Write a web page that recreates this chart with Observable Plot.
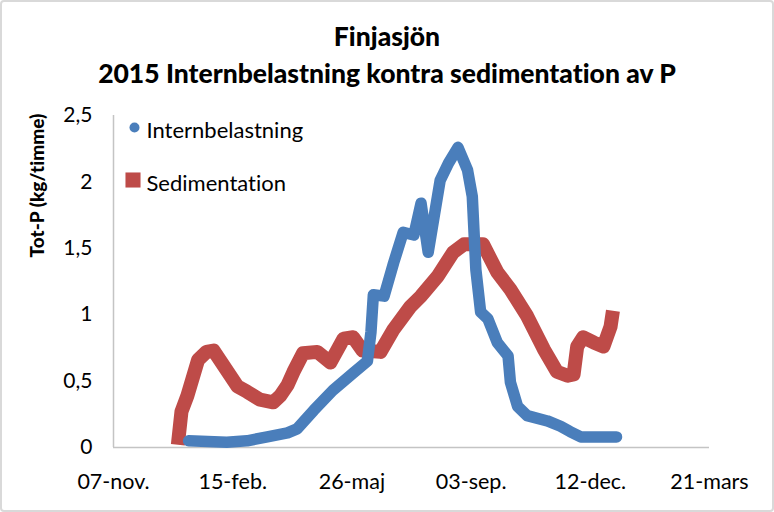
<!DOCTYPE html>
<html>
<head>
<meta charset="utf-8">
<script src="https://cdn.jsdelivr.net/npm/d3@7"></script>
<script src="https://cdn.jsdelivr.net/npm/@observablehq/plot@0.6"></script>
<style>
  html, body { margin: 0; padding: 0; background: #fff; }
  #wrap { position: relative; width: 774px; height: 512px; overflow: hidden; background: #fff; font-family: Lato, "Open Sans", sans-serif; font-variant-ligatures: none; }
  #frame { position: absolute; left: 0; top: 0; width: 774px; height: 512px; box-sizing: border-box; border: 2px solid #d9d9d9; border-radius: 4px; pointer-events: none; }
  #title { height: 95px; box-sizing: border-box; padding-top: 18px; text-align: center; font-weight: 900; font-size: 26.5px; line-height: 37px; color: #000; }
  svg { display: block; font-variant-ligatures: none; }
</style>
</head>
<body>
<div id="wrap">
  <div id="title"><div>Finjasjön</div><div>2015 Internbelastning kontra sedimentation av P</div></div>
  <div id="chart"></div>
  <div id="frame"></div>
</div>
<script>
// ---- data ----
const xTickDates = ["2014-11-07", "2015-02-15", "2015-05-26", "2015-09-03", "2015-12-12", "2016-03-21"];
const xTickLabels = ["07-nov.", "15-feb.", "26-maj", "03-sep.", "12-dec.", "21-mars"];
const yTicks = [0, 0.5, 1, 1.5, 2, 2.5];
const seriesNames = ["Internbelastning", "Sedimentation"];
const yLabel = "Tot-P (kg/timme)";

const internDates = ["2015-01-09","2015-02-10","2015-02-27","2015-03-16","2015-04-02","2015-04-10","2015-04-24","2015-05-10","2015-05-27","2015-06-08","2015-06-11","2015-06-13","2015-06-22","2015-06-30","2015-07-08","2015-07-17","2015-07-23","2015-07-29","2015-08-08","2015-08-15","2015-08-23","2015-08-31","2015-09-04","2015-09-07","2015-09-11","2015-09-17","2015-09-25","2015-10-04","2015-10-06","2015-10-12","2015-10-20","2015-11-06","2015-11-17","2015-11-25","2015-12-04","2016-01-03"];
const internValues = [0.05,0.04,0.05,0.08,0.11,0.14,0.28,0.43,0.56,0.65,0.87,1.15,1.14,1.39,1.62,1.60,1.84,1.47,2.01,2.14,2.26,2.09,1.89,1.34,1.02,0.97,0.79,0.69,0.49,0.31,0.24,0.20,0.16,0.12,0.08,0.08];

const sedDates = ["2014-12-31","2015-01-03","2015-01-08","2015-01-17","2015-01-24","2015-01-30","2015-02-19","2015-02-27","2015-03-10","2015-03-21","2015-03-27","2015-04-02","2015-04-07","2015-04-15","2015-04-27","2015-05-08","2015-05-19","2015-05-27","2015-06-04","2015-06-19","2015-06-30","2015-07-14","2015-07-23","2015-08-06","2015-08-19","2015-08-28","2015-09-13","2015-09-25","2015-10-06","2015-10-20","2015-11-03","2015-11-14","2015-11-23","2015-11-28","2015-12-01","2015-12-06","2015-12-15","2015-12-23","2015-12-29","2015-12-31"];
const sedValues = [0.02,0.27,0.39,0.66,0.72,0.73,0.46,0.42,0.36,0.34,0.39,0.47,0.57,0.71,0.72,0.64,0.82,0.83,0.73,0.72,0.89,1.06,1.14,1.29,1.47,1.53,1.53,1.32,1.19,0.99,0.74,0.57,0.54,0.55,0.76,0.83,0.79,0.76,0.91,1.03];

const colors = ["#4a7ebb", "#be4b48"];

// ---- build ----
const parse = d3.utcParse("%Y-%m-%d");
const intern = internDates.map((d, i) => ({date: parse(d), value: internValues[i]}));
const sed = sedDates.map((d, i) => ({date: parse(d), value: sedValues[i]}));
const ticks = xTickDates.map(parse);
const labelOf = new Map(ticks.map((t, i) => [+t, xTickLabels[i]]));
const font = "Lato, 'Open Sans', sans-serif";

const chart = Plot.plot({
  width: 774,
  height: 417,
  marginTop: 20,
  marginBottom: 65,
  marginLeft: 113,
  marginRight: 65,
  style: {fontFamily: font, background: "#fff", color: "#000"},
  x: {type: "utc", domain: [ticks[0], ticks[ticks.length - 1]]},
  y: {domain: [0, 2.5]},
  marks: [
    Plot.ruleY([0], {stroke: "#c4c4c4", strokeWidth: 1.5}),
    Plot.ruleX([ticks[0]], {stroke: "#c4c4c4", strokeWidth: 1.5}),
    Plot.axisX({ticks, tickFormat: d => labelOf.get(+d), tickSize: 0, tickPadding: 26, fontSize: 21.5, label: null, fill: "#000"}),
    Plot.axisY({ticks: yTicks, tickFormat: d => String(d).replace(".", ","), tickSize: 0, tickPadding: 21, fontSize: 21, label: null, fill: "#000"}),
    Plot.text([yLabel], {frameAnchor: "left", dx: -76, dy: -24, rotate: -90, text: d => d, fontWeight: 900, fontSize: 19, fill: "#000"}),
    Plot.line(sed, {x: "date", y: "value", stroke: colors[1], strokeWidth: 14, strokeLinejoin: "round", strokeLinecap: "butt"}),
    Plot.line(intern, {x: "date", y: "value", stroke: colors[0], strokeWidth: 11.5, strokeLinejoin: "round", strokeLinecap: "round"}),
    Plot.dot([seriesNames[0]], {frameAnchor: "top-left", dx: 21, dy: 12, r: 5, fill: colors[0], stroke: null}),
    Plot.text([seriesNames[0]], {frameAnchor: "top-left", dx: 33, dy: 7, text: d => d, textAnchor: "start", fontSize: 22, fill: "#000"}),
    Plot.dot([seriesNames[1]], {frameAnchor: "top-left", dx: 19.5, dy: 64.5, r: 8.5, symbol: "square", fill: colors[1], stroke: null}),
    Plot.text([seriesNames[1]], {frameAnchor: "top-left", dx: 33, dy: 60, text: d => d, textAnchor: "start", fontSize: 22, fill: "#000"})
  ]
});
document.getElementById("chart").appendChild(chart);
</script>
</body>
</html>
